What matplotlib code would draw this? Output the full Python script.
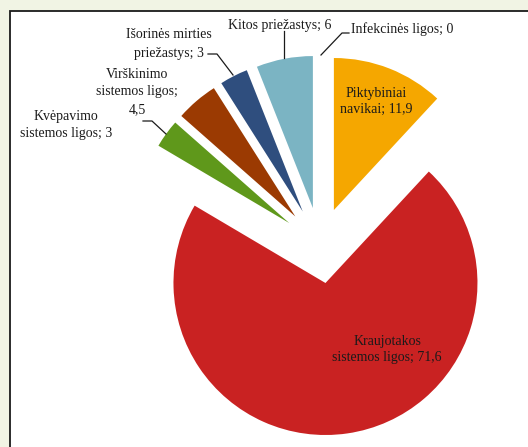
import matplotlib
matplotlib.use('Agg')
import matplotlib.pyplot as plt
from matplotlib.patches import Rectangle

# ---- data ----
categories = ['Piktybiniai navikai', 'Kraujotakos sistemos ligos',
              'Kvėpavimo sistemos ligos', 'Virškinimo sistemos ligos',
              'Išorinės mirties priežastys', 'Kitos priežastys',
              'Infekcinės ligos']
values = [11.9, 71.6, 3, 4.5, 3, 6, 0]
label_texts = ['Piktybiniai\nnavikai; 11,9',
               'Kraujotakos\nsistemos ligos; 71,6',
               'Kvėpavimo\nsistemos ligos; 3',
               'Virškinimo\nsistemos ligos;\n4,5',
               'Išorinės mirties\npriežastys; 3',
               'Kitos priežastys; 6',
               'Infekcinės ligos; 0']
colors = ['#F5A700', '#C92222', '#5F981B', '#9B3A02', '#2F4E7E', '#7BB4C3', '#888888']

W, H = 528, 447
fig = plt.figure(figsize=(W / 100, H / 100), dpi=100)
fig.patch.set_facecolor('#F1F4E4')
ax = fig.add_axes([0, 0, 1, 1])

def py(y):
    return H - y

# white framed panel
ax.add_patch(Rectangle((9.5, py(600)), 700, 600 - 10.5, facecolor='white',
                       edgecolor='#1a1a1a', lw=1.3, zorder=0))

ax.pie(values, colors=colors, startangle=90, counterclock=False,
       radius=152, center=(320, py(245.4)), explode=[38] * len(values),
       wedgeprops=dict(linewidth=0), frame=True)
ax.set_xlim(0, W)
ax.set_ylim(0, H)
ax.set_aspect('equal')
ax.axis('off')

font = dict(family='Liberation Serif', fontsize=10, color='#1a1a1a')

# label positions (pixel coords of block centre)
ax.text(376, py(101.5), label_texts[0], ha='center', va='center', linespacing=1.35, **font)
ax.text(387, py(350), label_texts[1], ha='center', va='center', linespacing=1.3, **font)
ax.text(66, py(125), label_texts[2], ha='center', va='center', linespacing=1.4, **font)
ax.text(137, py(92), label_texts[3], ha='center', va='center', linespacing=1.45, **font)
ax.text(169, py(44), label_texts[4], ha='center', va='center', linespacing=1.5, **font)
ax.text(280, py(26), label_texts[5], ha='center', va='center', **font)
ax.text(351, py(29), label_texts[6], ha='left', va='center', **font)

# leader lines
lc = dict(color='#1a1a1a', lw=0.9)
ax.plot([143, 152, 166], [py(121), py(121), py(134)], **lc)
ax.plot([208, 217, 233], [py(54), py(54), py(75)], **lc)
ax.plot([284, 284], [py(31), py(58)], **lc)
ax.plot([349, 342, 321], [py(33), py(33), py(55)], **lc)

fig.savefig('out.png', dpi=100, facecolor=fig.get_facecolor())
